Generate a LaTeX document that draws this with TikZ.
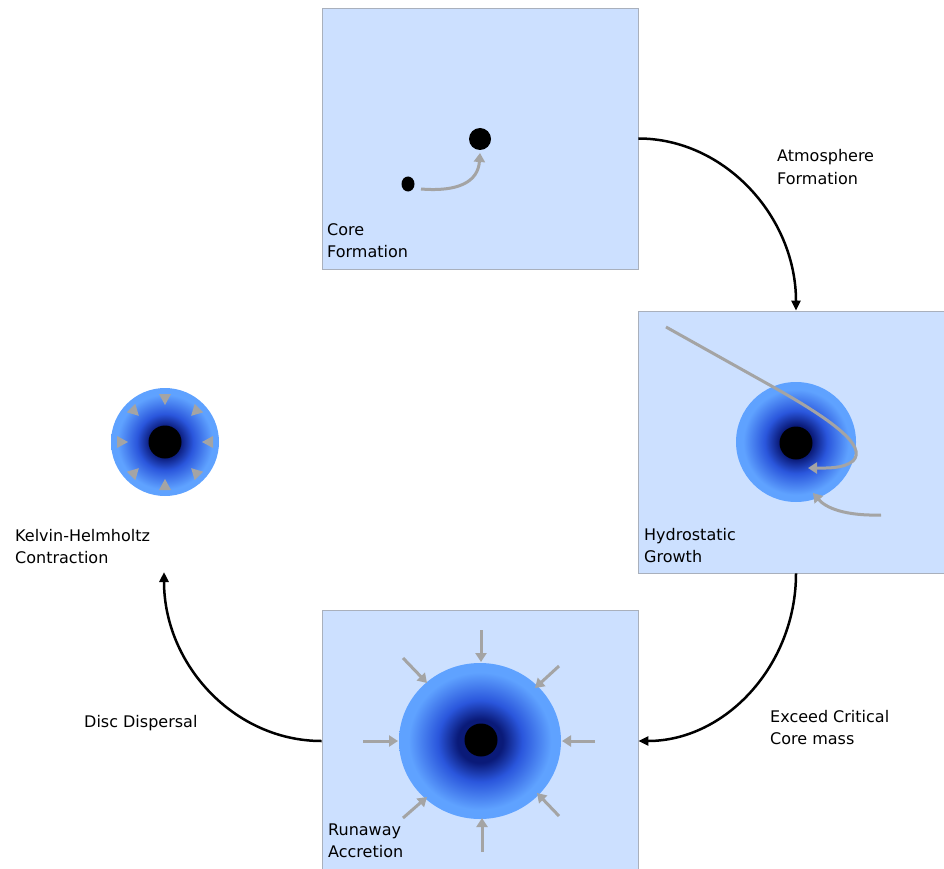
\documentclass[tikz,border=0pt]{standalone}
\usepackage{fontspec}
\setmainfont{DejaVu Sans}
\usetikzlibrary{arrows.meta}

\definecolor{panel}{HTML}{CCE0FF}
\definecolor{panelline}{HTML}{A9B0BC}
\definecolor{flow}{HTML}{A4A4A4}
\definecolor{glowin}{HTML}{0A1A78}
\definecolor{glowmid}{HTML}{2A56DC}
\definecolor{glowout}{HTML}{5FA2FF}

% envelope around a planetary core: dark near the core, bright blue outside
\pgfdeclareradialshading{glow}{\pgfpoint{0bp}{0bp}}{%
  color(0bp)=(glowin); color(7bp)=(glowin); color(13bp)=(glowmid);
  color(22bp)=(glowout); color(50bp)=(glowout)}

\begin{document}
\begin{tikzpicture}[x=1pt,y=-1pt,
  panelbox/.style={rectangle, draw=panelline, fill=panel, line width=0.8pt,
    minimum width=316pt, minimum height=262pt, inner sep=0pt},
  caption/.style={font=\fontsize{16}{22}\selectfont, align=left,
    anchor=base west, inner sep=0pt},
  cycle/.style={line width=2.5pt, -{Triangle[length=10pt,width=9pt]}},
  inflow/.style={draw=flow, line width=3pt, -{Triangle[length=9pt,width=11pt]}},
  core/.style={fill=black}]

\useasboundingbox (0,0) rectangle (944,869);
\clip (0,0) rectangle (944,869);

% stage panels
\node[panelbox, minimum height=261pt] (top) at (480,138.5) {};
\node[panelbox] (right) at (796,442) {};
\node[panelbox] (bottom) at (480,741) {};

% core formation
\fill[core] (480,139) circle (11);
\fill[core] (408,184) ellipse (6.5 and 7.5);
\draw[inflow] (421,189) .. controls (458,192) and (478,182) .. (480,153);

% hydrostatic growth
\shade[shading=glow] (796,442) circle (60);
\fill[core] (796,443) circle (16.5);
\draw[inflow] (666,327) -- (775,388) .. controls (830,419) and (868,446) .. (853,461)
  .. controls (843,469) and (826,468) .. (808,468);
\draw[inflow] (881,515) .. controls (845,516) and (826,508) .. (813,493);

% runaway accretion
\shade[shading=glow] (480,741) ellipse (81 and 78);
\fill[core] (481,740) circle (16.5);
\draw[inflow] (481,630) -- (481,662);
\draw[inflow] (559,666) -- (535,688);
\draw[inflow] (595,741) -- (562,741);
\draw[inflow] (559,816) -- (537,793);
\draw[inflow] (482,852) -- (482,818);
\draw[inflow] (403,818) -- (427,797);
\draw[inflow] (363,741) -- (398,741);
\draw[inflow] (403,658) -- (427,683);

% Kelvin-Helmholtz contraction
\node[circle, minimum size=108pt, inner sep=0pt, shade, shading=glow] (kh) at (165,442) {};
\fill[core] (kh.center) circle (16.5);
\foreach \a in {0,45,...,315}
  \fill[flow, shift={(kh.center)}, rotate=\a] (37,0) -- (48,6) -- (48,-6) -- cycle;
\coordinate (khin) at (164,572);

% evolutionary cycle
\draw[cycle] (top.east) .. controls +(86,0) and +(0,-94) .. (right.north);
\draw[cycle] (right.south) .. controls +(0,92) and +(87,0) .. (bottom.east);
\draw[cycle] (bottom.west) .. controls +(-87,0) and +(0,93) .. (khin);

% captions (anchored at the baseline of the last line)
\node[caption] (tcore) at (327,257) {Core\\Formation};
\node[caption] (thydro) at (644,562) {Hydrostatic\\Growth};
\node[caption] (trun) at (328,857) {Runaway\\Accretion};
\node[caption] (tkh) at (15,563) {Kelvin-Helmholtz\\Contraction};
\node[caption] (tatm) at (777,184) {Atmosphere\\Formation};
\node[caption] (texc) at (770,744) {Exceed Critical\\Core mass};
\node[caption] (tdisc) at (84,727) {Disc Dispersal};
\end{tikzpicture}
\end{document}
